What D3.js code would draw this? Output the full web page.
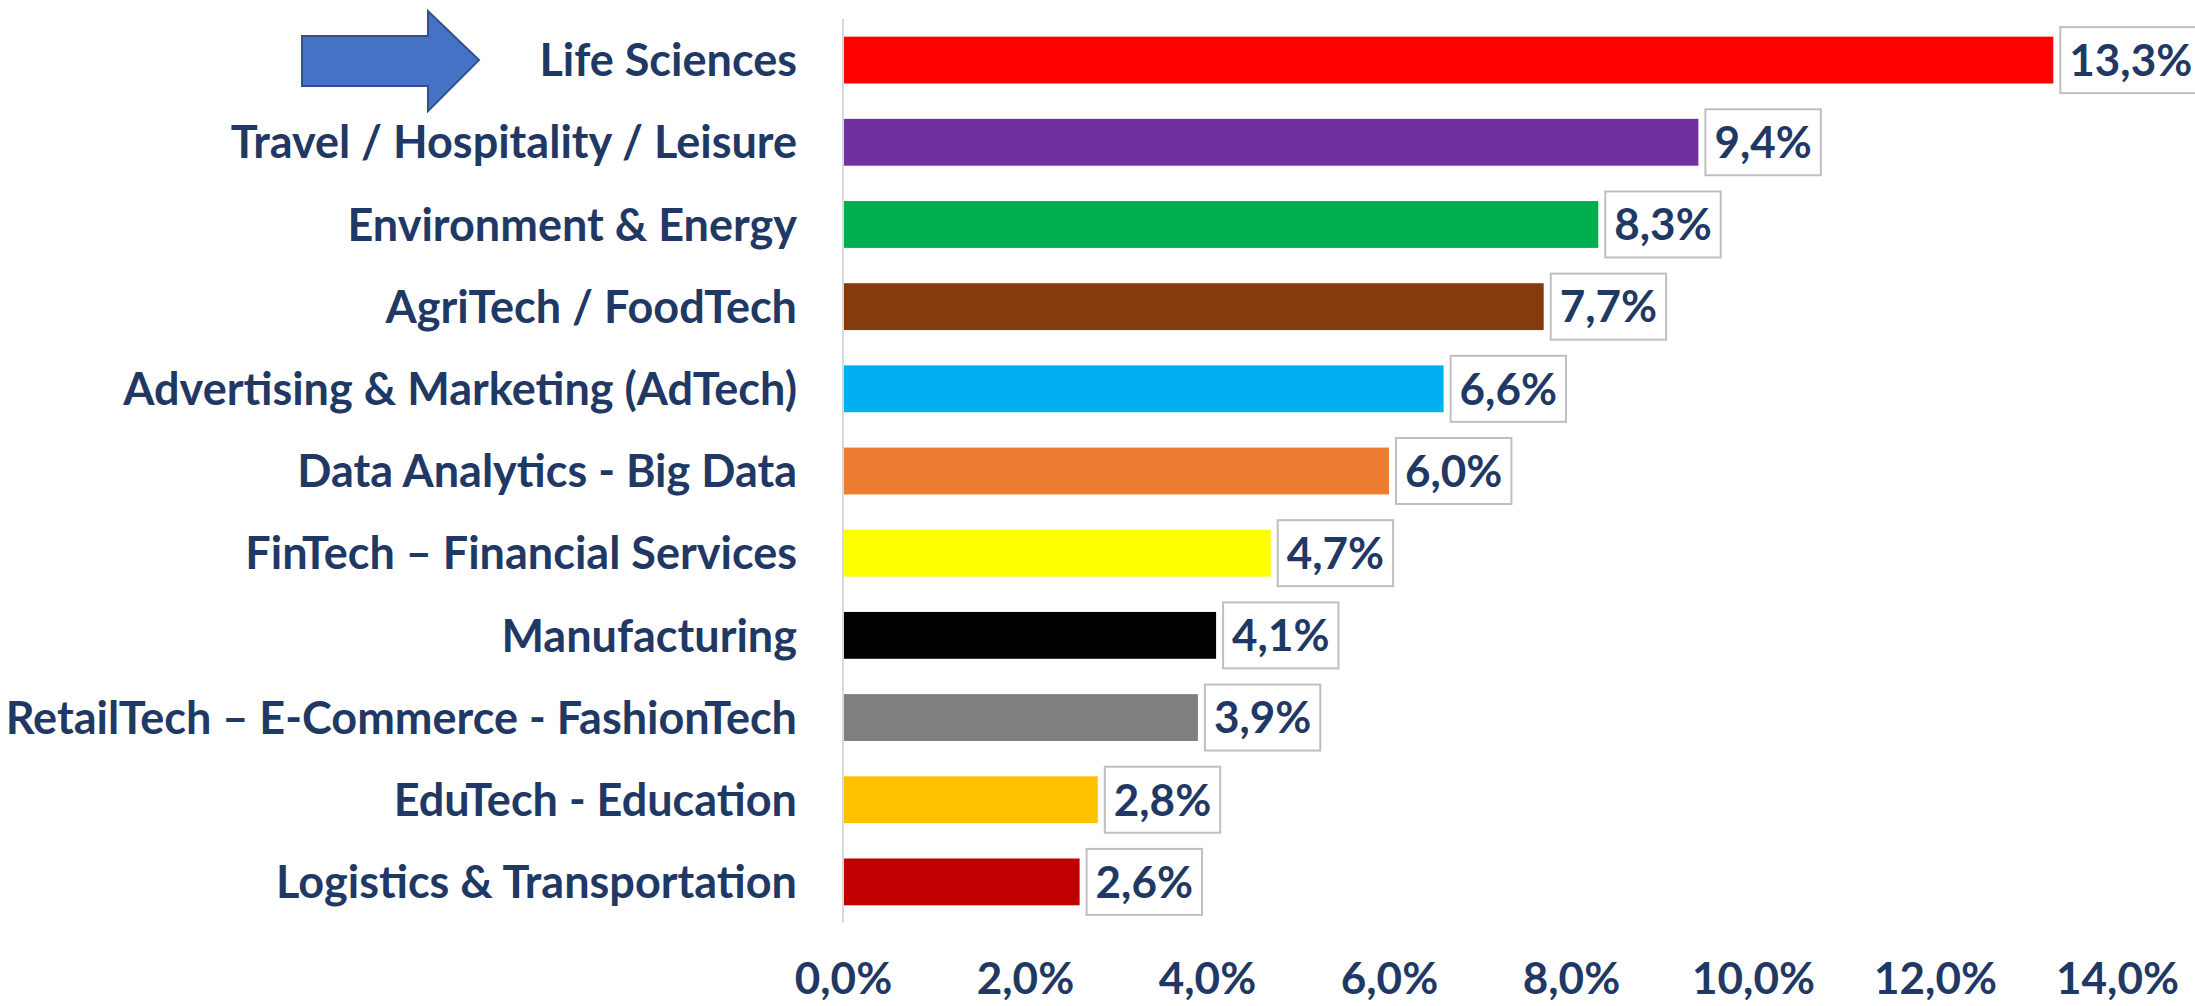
<!DOCTYPE html>
<html>
<head>
<meta charset="utf-8">
<script src="https://cdn.jsdelivr.net/npm/d3@7"></script>
<style>
  html, body { margin: 0; padding: 0; background: #ffffff; }
  #chart { width: 2195px; height: 1006px; }
  text { font-family: Lato, "Open Sans", sans-serif; font-weight: 700; fill: #1f3864; }
</style>
</head>
<body>
<div id="chart"></div>
<script>
// data
const categories = [
  "Life Sciences",
  "Travel / Hospitality / Leisure",
  "Environment & Energy",
  "AgriTech / FoodTech",
  "Advertising & Marketing (AdTech)",
  "Data Analytics - Big Data",
  "FinTech – Financial Services",
  "Manufacturing",
  "RetailTech – E-Commerce - FashionTech",
  "EduTech - Education",
  "Logistics & Transportation"
];
const values = [13.3, 9.4, 8.3, 7.7, 6.6, 6.0, 4.7, 4.1, 3.9, 2.8, 2.6];
const barColors = [
  "#ff0000", "#7030a0", "#00b050", "#843c0c", "#00b0f0", "#ed7d31",
  "#ffff00", "#000000", "#7f7f7f", "#ffc000", "#c00000"
];
const xTicks = [0, 2, 4, 6, 8, 10, 12, 14];

const W = 2195, H = 1006;
const margin = { top: 19, right: 78, bottom: 83, left: 843 };
const width = W - margin.left - margin.right;
const height = H - margin.top - margin.bottom;

const fmt = (v) => v.toFixed(1).replace(".", ",") + "%";

const svg = d3
  .select("#chart")
  .append("svg")
  .attr("width", W)
  .attr("height", H)
  .style("display", "block");

const g = svg.append("g").attr("transform", `translate(${margin.left}, ${margin.top})`);

const x = d3.scaleLinear().domain([0, 14]).range([0, width]);
const y = d3.scaleBand().domain(categories).range([0, height]).paddingInner(0.43).paddingOuter(0.215);

// bars
g.selectAll(".bar")
  .data(categories)
  .join("rect")
  .attr("class", "bar")
  .attr("x", 0)
  .attr("y", (d) => y(d))
  .attr("height", y.bandwidth())
  .attr("width", (d, i) => x(values[i]))
  .attr("fill", (d, i) => barColors[i]);

// vertical axis line
g.append("line")
  .attr("x1", 0)
  .attr("x2", 0)
  .attr("y1", 0)
  .attr("y2", height)
  .attr("stroke", "#d9d9d9")
  .attr("stroke-width", 2);

// category labels
g.selectAll(".cat")
  .data(categories)
  .join("text")
  .attr("class", "cat")
  .attr("x", -46)
  .attr("y", (d) => y(d) + y.bandwidth() / 2)
  .attr("dy", "0.36em")
  .attr("text-anchor", "end")
  .style("font-size", "45px")
  .text((d) => d);

// value labels in boxes
const labels = g.selectAll(".val")
  .data(categories)
  .join("g")
  .attr("class", "val")
  .attr("transform", (d, i) => `translate(${x(values[i]) + 7}, ${y(d) + y.bandwidth() / 2})`);

labels.append("rect").attr("fill", "#ffffff").attr("stroke", "#bfbfbf").attr("stroke-width", 2);
labels.append("text")
  .attr("dy", "0.36em")
  .style("font-size", "44px")
  .text((d, i) => fmt(values[i]));

labels.each(function () {
  const t = d3.select(this).select("text");
  const w = t.node().getComputedTextLength();
  t.attr("x", 9);
  d3.select(this).select("rect")
    .attr("x", 0)
    .attr("y", -33)
    .attr("width", w + 18)
    .attr("height", 66);
});

// x axis tick labels
const xAxis = g.append("g")
  .attr("transform", `translate(0, ${height})`)
  .call(d3.axisBottom(x).tickValues(xTicks).tickFormat((d) => fmt(d)).tickSize(0).tickPadding(0));
xAxis.select(".domain").remove();
xAxis.selectAll("text")
  .attr("y", 71)
  .attr("dy", 0)
  .style("font-size", "44px")
  .style("font-family", "Lato, sans-serif")
  .attr("fill", "#1f3864");

// arrow pointing at the first category
const yc = margin.top + y(categories[0]) + y.bandwidth() / 2;
const arrow = [
  [302, yc - 24], [428, yc - 24], [428, yc - 49], [479, yc],
  [428, yc + 51], [428, yc + 26], [302, yc + 26]
];
svg.append("path")
  .attr("d", d3.line()(arrow) + "Z")
  .attr("fill", "#4472c4")
  .attr("stroke", "#2f528f")
  .attr("stroke-width", 2);
</script>
</body>
</html>
